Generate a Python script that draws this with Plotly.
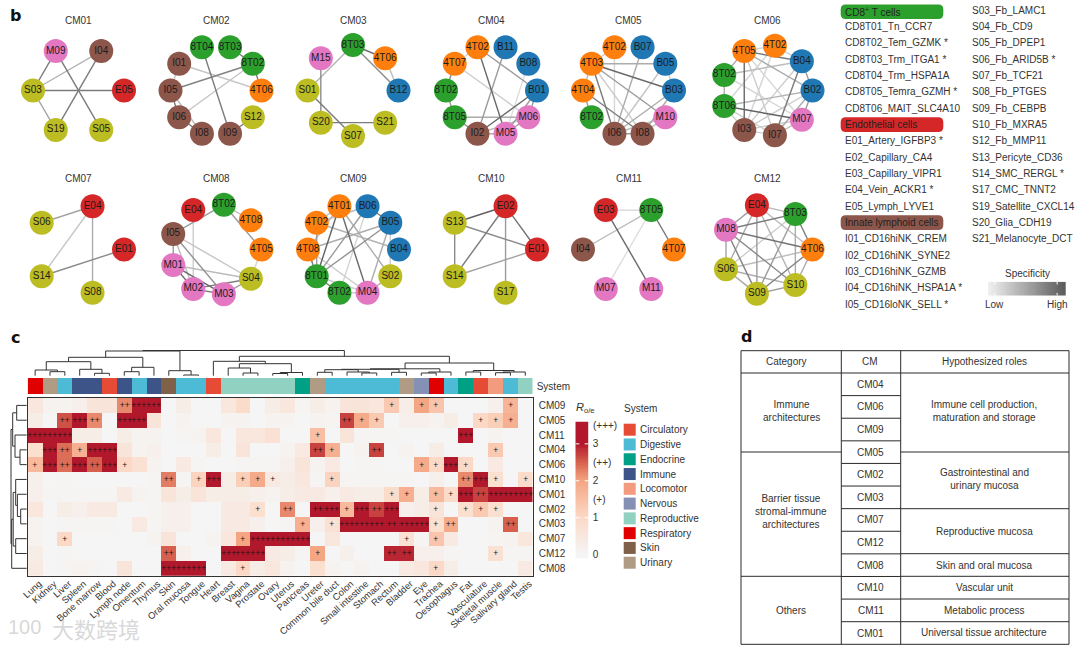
import math
import plotly.graph_objects as go

W, H = 1080, 648
FONT = "Liberation Sans"
INK = "#333333"

# ---------- panel b: co-occurrence networks (nodes clockwise from east) ----------
NODES = {
    "CM01": ["E05", "S05", "S19", "S03", "M09", "I04"],
    "CM02": ["4T06", "S12", "I09", "I08", "I06", "I05", "I01", "8T04", "8T03", "8T02"],
    "CM03": ["B12", "S21", "S07", "S20", "S01", "M15", "8T03", "4T06"],
    "CM04": ["B01", "M06", "M05", "I02", "8T05", "8T02", "4T07", "4T02", "B11", "B08"],
    "CM05": ["B03", "M10", "I08", "I06", "8T02", "4T04", "4T03", "4T02", "B07", "B05"],
    "CM06": ["B02", "M07", "I07", "I03", "8T06", "8T02", "4T05", "4T02", "B04"],
    "CM07": ["E01", "S08", "S14", "S06", "E04"],
    "CM08": ["4T05", "S04", "M03", "M02", "M01", "I05", "E04", "8T02", "4T08"],
    "CM09": ["B04", "S02", "M04", "8T02", "8T01", "4T08", "4T02", "4T01", "B06", "B05"],
    "CM10": ["E01", "S17", "S14", "S13", "E02"],
    "CM11": ["4T07", "M11", "M07", "I04", "E03", "8T05"],
    "CM12": ["4T06", "S10", "S09", "S06", "M08", "E04", "8T03"],
}
EDGES = {
    "CM01": [("M09", "S03", .7), ("M09", "S05", .7), ("I04", "S03", .35), ("I04", "S19", .7),
             ("S03", "E05", .7), ("S03", "S19", .45)],
    "CM02": [("8T03", "8T02", .7), ("8T02", "4T06", .7), ("8T02", "I05", .65), ("8T02", "I06", .25),
             ("8T04", "I09", .7), ("I01", "4T06", .25), ("I01", "I05", .25), ("I05", "I06", .7),
             ("I05", "I08", .3), ("I06", "I08", .7), ("I09", "S12", .7)],
    "CM03": [("8T03", "4T06", .8), ("8T03", "B12", .6), ("4T06", "B12", .3), ("8T03", "S01", .35),
             ("M15", "S20", .6), ("S01", "S07", .7), ("S20", "S21", .7)],
    "CM04": [("4T07", "4T02", .15), ("4T07", "8T02", .6), ("4T07", "M06", .2), ("8T02", "8T05", .5),
             ("4T02", "B01", .5), ("4T02", "M05", .8), ("B11", "I02", .5), ("B08", "M05", .1),
             ("B01", "I02", .8), ("B01", "M06", .5), ("B01", "M05", .5), ("8T05", "M06", .4),
             ("8T05", "I02", .6), ("I02", "M05", .4), ("M05", "M06", .5), ("I02", "M06", .3)],
    "CM05": [("4T03", "B05", .4), ("4T03", "B03", .8), ("4T03", "M10", .5), ("4T03", "I06", .7),
             ("4T03", "4T02", .2), ("4T03", "I08", .2), ("4T04", "I08", .7), ("4T04", "8T02", .5),
             ("4T04", "4T03", .3), ("B07", "I06", .4), ("B05", "I06", .25), ("B03", "I06", .4),
             ("B03", "I08", .4), ("M10", "I06", .3), ("M10", "I08", .3), ("I06", "I08", .5),
             ("4T02", "I06", .15), ("B05", "B03", .2)],
    "CM06": [("4T05", "B04", .7), ("4T05", "B02", .4), ("4T05", "I03", .8), ("4T05", "8T02", .4),
             ("4T05", "I07", .2), ("4T05", "4T02", .2), ("4T05", "M07", .15), ("4T02", "B04", .2),
             ("4T02", "I03", .15), ("8T02", "B04", .3), ("8T02", "8T06", .4), ("8T02", "M07", .15),
             ("8T06", "B02", .35), ("8T06", "M07", .85), ("8T06", "I03", .2), ("8T06", "I07", .2),
             ("8T06", "4T02", .15), ("B04", "B02", .5), ("B04", "I07", .7), ("B04", "I03", .2),
             ("B02", "M07", .5), ("B02", "I07", .4), ("B02", "I03", .2), ("M07", "I07", .3),
             ("M07", "I03", .2), ("I03", "I07", .2)],
    "CM07": [("E04", "S06", .45), ("E04", "S14", .25), ("E04", "S08", .4), ("E01", "S14", .6)],
    "CM08": [("8T02", "I05", .5), ("E04", "M02", .2), ("8T02", "4T08", .3), ("8T02", "4T05", .5),
             ("4T05", "S04", .15), ("I05", "M01", .5), ("I05", "S04", .25), ("I05", "M02", .3),
             ("I05", "M03", .55), ("M01", "S04", .3), ("M01", "M02", .8), ("M01", "M03", .8),
             ("M02", "M03", .7), ("M02", "S04", .7), ("M03", "S04", .5)],
    "CM09": [("4T01", "8T01", .85), ("4T01", "M04", .8), ("4T01", "S02", .4), ("4T01", "4T02", .3),
             ("4T01", "4T08", .3), ("B06", "8T01", .5), ("B06", "8T02", .15), ("B06", "4T02", .3),
             ("B06", "B05", .7), ("B05", "4T08", .4), ("B05", "8T01", .55), ("B05", "M04", .4),
             ("B05", "S02", .2), ("B04", "4T02", .35), ("S02", "M04", .4), ("4T02", "8T01", .5),
             ("4T08", "8T01", .7), ("4T08", "M04", .2), ("8T01", "8T02", .7), ("8T01", "M04", .2),
             ("8T02", "M04", .2)],
    "CM10": [("E02", "S13", .85), ("E02", "S14", .7), ("E02", "E01", .75), ("E02", "S17", .5),
             ("S13", "E01", .6), ("S13", "S14", .6), ("S14", "E01", .45)],
    "CM11": [("E03", "8T05", .15), ("E03", "M11", .8), ("8T05", "I04", .3), ("8T05", "M07", .1),
             ("8T05", "4T07", .7)],
    "CM12": [("E04", "8T03", .3), ("E04", "M08", .5), ("E04", "4T06", .3), ("E04", "S10", .35),
             ("E04", "S09", .5), ("E04", "S06", .4), ("8T03", "M08", .7), ("8T03", "4T06", .7),
             ("8T03", "S10", .4), ("8T03", "S09", .5), ("8T03", "S06", .2), ("4T06", "M08", .75),
             ("4T06", "S10", .4), ("4T06", "S09", .65), ("4T06", "S06", .3), ("S10", "M08", .6),
             ("S10", "S09", .5), ("S10", "S06", .4), ("S09", "M08", .65), ("S09", "S06", .45),
             ("S06", "M08", .45)],
}
NODE_COLORS = {"8T": "#2ca02c", "4T": "#ff7f0e", "B": "#1f77b4", "E": "#d62728",
               "I": "#8c564b", "M": "#e377c2", "S": "#bcbd22"}
PANEL_X = {"CM01": 78.5, "CM02": 216, "CM03": 353, "CM04": 491.5, "CM05": 628.5, "CM06": 767,
           "CM07": 78.5, "CM08": 216, "CM09": 353.5, "CM10": 491.5, "CM11": 628.5, "CM12": 767}
ROW_Y = {"top": 90.5, "bottom": 249.5}
PANEL_RADIUS = 45.5

# ---------- cell-type key ----------
KEY_COL1 = ["CD8<sup>+</sup> T cells", "CD8T01_Tn_CCR7", "CD8T02_Tem_GZMK *", "CD8T03_Trm_ITGA1 *",
            "CD8T04_Trm_HSPA1A", "CD8T05_Temra_GZMH *", "CD8T06_MAIT_SLC4A10", "Endothelial cells",
            "E01_Artery_IGFBP3 *", "E02_Capillary_CA4", "E03_Capillary_VIPR1", "E04_Vein_ACKR1 *",
            "E05_Lymph_LYVE1", "Innate lymphoid cells", "I01_CD16hiNK_CREM", "I02_CD16hiNK_SYNE2",
            "I03_CD16hiNK_GZMB", "I04_CD16hiNK_HSPA1A *", "I05_CD16loNK_SELL *"]
KEY_COL2 = ["S03_Fb_LAMC1", "S04_Fb_CD9", "S05_Fb_DPEP1", "S06_Fb_ARID5B *", "S07_Fb_TCF21",
            "S08_Fb_PTGES", "S09_Fb_CEBPB", "S10_Fb_MXRA5", "S12_Fb_MMP11", "S13_Pericyte_CD36",
            "S14_SMC_RERGL *", "S17_CMC_TNNT2", "S19_Satellite_CXCL14", "S20_Glia_CDH19",
            "S21_Melanocyte_DCT"]
KEY_PILLS = {0: "#2ca02c", 7: "#d62728", 13: "#8c564b"}
SPEC_LEVELS = [0.0, 0.1, 0.2, 0.3, 0.4, 0.5, 0.6, 0.7, 0.8, 0.9, 1.0]
SPEC_TICKS = [0.09, 0.89]

# ---------- panel c: heatmap ----------
TISSUES = ["Lung", "Kidney", "Liver", "Spleen", "Bone marrow", "Blood", "Lymph node", "Omentum", "Thymus",
           "Skin", "Oral mucosa", "Tongue", "Heart", "Breast", "Vagina", "Prostate", "Ovary", "Uterus",
           "Pancreas", "Ureter", "Common bile duct", "Colon", "Small intestine", "Stomach", "Rectum",
           "Bladder", "Eye", "Trachea", "Oesophagus", "Fat", "Vasculature", "Skeletal muscle",
           "Salivary gland", "Testis"]
TISSUE_SYSTEM = ["Respiratory", "Urinary", "Digestive", "Immune", "Immune", "Circulatory", "Immune", "Digestive",
                 "Immune", "Skin", "Digestive", "Digestive", "Circulatory", "Reproductive", "Reproductive",
                 "Reproductive", "Reproductive", "Reproductive", "Endocrine", "Urinary", "Digestive", "Digestive",
                 "Digestive", "Digestive", "Digestive", "Urinary", "Nervous", "Respiratory", "Digestive",
                 "Endocrine", "Circulatory", "Locomotor", "Digestive", "Reproductive"]
SYSTEMS = ["Circulatory", "Digestive", "Endocrine", "Immune", "Locomotor", "Nervous", "Reproductive",
           "Respiratory", "Skin", "Urinary"]
SYSTEM_COLORS = ["#e64b35", "#4dbbd5", "#00a087", "#3c5488", "#f39b7f", "#8491b4", "#91d1c2",
                 "#e00000", "#7e6148", "#b09c85"]
MODULES = ["CM09", "CM05", "CM11", "CM04", "CM06", "CM10", "CM01", "CM02", "CM03", "CM07", "CM12", "CM08"]

R_CM09 = [.5, .1, .1, .2, .6, .6, 2.2, 3.5, 3.5, 0, .3, 0, 0, .5, .9, 0, .3, .5, .05, .3,
          .1, .6, .6, .5, 1.3, .3, 2.0, 1.4, 0, 0, 0, .2, 1.7, 0]
R_CM05 = [.3, 0, 2.6, 3.3, 2.2, 0, 3.3, 3.3, .6, 0, .1, 0, 0, .1, .1, 0, .1, .1, 0, .1,
          .05, 2.7, 1.9, 1.3, 0, .2, .2, .1, .3, 0, 1.0, 1.2, 1.8, 0]
R_CM11 = [3.5, 3.5, 3.5, .3, .3, 0, .3, .1, .1, 0, .05, .1, .5, 0, .5, .5, .7, 0, 0, 1.5,
          0, .6, .05, .05, .05, 0, 0, 0, 0, 3.5, 0, .1, 0, 0]
R_CM04 = [.8, 3.3, 2.4, 1.8, 3.4, 3.4, .6, .1, .2, 0, 0, 0, .3, 0, .6, 0, 0, .1, .4, 2.7,
          1.8, 0, .1, 2.7, 0, .1, 0, .3, 0, 0, 0, 1.3, 0, 0]
R_CM06 = [1.6, 3.3, 2.4, 3.2, 2.5, 3.3, 1.0, .7, .1, 0, .4, .05, 0, 0, .05, .05, .05, .2, .6, .1,
          .4, 0, .05, .05, 0, 0, 1.9, 1.0, 3.4, 1.0, 0, .4, 0, 0]
R_CM10 = [.2, 0, .05, 0, 0, 0, 0, 0, .05, 2.3, .05, 1.1, 3.4, .3, 1.2, 1.9, .4, .3, .5, .05,
          1.1, .05, .05, .05, .05, .05, 0, .2, 0, 2.2, 3.2, .8, 0, .9]
R_CM01 = [.2, .05, .05, .05, .05, .05, .4, .1, .05, .6, .3, .6, .3, .3, .3, .2, .1, .3, .4, .4,
          .2, .4, .3, .3, .9, 1.8, .3, 1.6, .9, 3.2, 2.7, 3.4, 3.4, 3.4]
R_CM02 = [.5, 0, .3, .2, .4, .4, 0, 0, .05, .2, .2, 0, 0, .4, .4, .8, 0, 2.2, 0, 3.0,
          3.3, 1.6, 3.2, 2.7, 3.2, .2, .3, .6, 0, .8, 1.3, .8, 0, 0]
R_CM03 = [.1, 0, .05, .05, .05, .05, 0, .4, .05, .2, .2, 0, 0, .4, .4, .2, 0, .05, 1.8, .2,
          .7, 3.3, 3.4, 3.3, 3.0, 3.2, 3.3, .8, 1.9, 0, 0, .1, 2.5, 0]
R_CM07 = [.1, 0, 1.0, 0, 0, 0, 0, 0, .1, .6, 0, 0, .1, .5, 2.0, 3.4, 3.4, 3.4, 3.4, 0,
          .5, 0, 0, 0, 0, .7, .05, 1.4, .4, 0, 0, .05, .1, .5]
R_CM12 = [.3, 0, .05, 0, 0, 0, 0, 0, 0, 2.5, .2, 0, 0, 3.4, 3.4, 3.4, .4, .3, .05, 2.0,
          0, .2, 0, 0, 2.9, 2.9, .2, .2, .05, 0, 0, .7, .05, .05]
R_CM08 = [.4, 0, .05, .1, .05, 0, .6, 0, 0, 3.4, 3.4, 3.4, 0, .4, 1.0, .3, .5, .1, 0, .8,
          .1, 0, .1, 0, 0, .4, .5, 1.0, .3, 0, 0, 0, 0, .4]
HEAT_ROWS = [R_CM09, R_CM05, R_CM11, R_CM04, R_CM06, R_CM10, R_CM01, R_CM02, R_CM03, R_CM07, R_CM12, R_CM08]

PLUS = {
    "CM09": {"Lymph node": 2, "Omentum": 3, "Thymus": 3, "Rectum": 1, "Eye": 1, "Trachea": 1, "Salivary gland": 1},
    "CM05": {"Liver": 2, "Spleen": 3, "Bone marrow": 2, "Lymph node": 3, "Omentum": 3, "Colon": 2,
             "Small intestine": 1, "Stomach": 1, "Vasculature": 1, "Skeletal muscle": 1, "Salivary gland": 1},
    "CM11": {"Lung": 3, "Kidney": 3, "Liver": 3, "Ureter": 1, "Fat": 3},
    "CM04": {"Kidney": 3, "Liver": 2, "Spleen": 1, "Bone marrow": 3, "Blood": 3, "Ureter": 2,
             "Common bile duct": 1, "Stomach": 2, "Skeletal muscle": 1},
    "CM06": {"Lung": 1, "Kidney": 3, "Liver": 2, "Spleen": 3, "Bone marrow": 2, "Blood": 3, "Lymph node": 1,
             "Eye": 1, "Trachea": 1, "Oesophagus": 3, "Fat": 1},
    "CM10": {"Skin": 2, "Tongue": 1, "Heart": 3, "Vagina": 1, "Prostate": 1, "Ovary": 1, "Common bile duct": 1,
             "Fat": 2, "Vasculature": 3, "Skeletal muscle": 1, "Testis": 1},
    "CM01": {"Rectum": 1, "Bladder": 1, "Trachea": 1, "Oesophagus": 1, "Fat": 3, "Vasculature": 2,
             "Skeletal muscle": 3, "Salivary gland": 3, "Testis": 3},
    "CM02": {"Prostate": 1, "Uterus": 2, "Ureter": 2, "Common bile duct": 3, "Colon": 1, "Small intestine": 3,
             "Stomach": 2, "Rectum": 3, "Trachea": 1, "Fat": 1, "Vasculature": 1, "Skeletal muscle": 1},
    "CM03": {"Pancreas": 1, "Common bile duct": 1, "Colon": 3, "Small intestine": 3, "Stomach": 3, "Rectum": 2,
             "Bladder": 3, "Eye": 3, "Trachea": 1, "Oesophagus": 2, "Salivary gland": 2},
    "CM07": {"Liver": 1, "Vagina": 1, "Prostate": 3, "Ovary": 3, "Uterus": 3, "Pancreas": 3, "Bladder": 1, "Trachea": 1},
    "CM12": {"Skin": 2, "Breast": 3, "Vagina": 3, "Prostate": 3, "Ureter": 1, "Rectum": 2, "Bladder": 2,
             "Skeletal muscle": 1},
    "CM08": {"Skin": 3, "Oral mucosa": 3, "Tongue": 3, "Vagina": 1, "Trachea": 1},
}
COLOR_STOPS = [(-0.1, "#f5f5f5"), (0.0, "#f5f5f5"), (1.0, "#fcd9c6"), (2.0, "#f4a582"),
               (2.5, "#d6604d"), (3.0, "#b2182b"), (3.6, "#b2182b")]
Z_MIN, Z_MAX = -0.1, 3.6
R_TICKS = [0, 1, 2, 3]
R_TICK_MARKS = [1, 2, 3]
R_GRADES = [("(+++)", 3.5), ("(++)", 2.5), ("(+)", 1.5)]

# dendrograms: (height in px, left, right)
TOP_TREE = (27.5,
            (27.0,
             (20.7,
              (16.3,
               (8.0, "Lung", (6.3, "Kidney", "Liver")),
               (8.7, "Spleen", (4.7, "Bone marrow", "Blood"))),
              (10.7, (6.3, "Lymph node", "Omentum"), "Thymus")),
             (7.3, "Skin", (3.0, "Oral mucosa", "Tongue"))),
            (21.7,
             (16.7,
              "Heart",
              (14.3,
               (10.0, "Breast", (5.0, "Vagina", "Prostate")),
               (5.5, (4.5, "Ovary", "Uterus"), "Pancreas"))),
             (15.0,
              (9.2,
               (8.7,
                (8.3, (5.7, "Ureter", "Common bile duct"),
                 (6.0, "Colon", (5.0, "Small intestine", "Stomach"))),
                (5.7, "Rectum", "Bladder")),
               (6.0, (5.0, "Eye", "Trachea"), "Oesophagus")),
              (7.5,
               (6.0, "Fat", "Vasculature"),
               (6.0, (5.3, "Skeletal muscle", "Salivary gland"), "Testis")))))
LEFT_TREE = (16.7,
             (15.0,
              (11.0, "CM09", "CM05"),
              (12.7, "CM11", (7.7, "CM04", "CM06"))),
             (16.0,
              (14.5,
               (12.0, "CM10", (10.3, "CM01", (7.0, "CM02", "CM03"))),
               (12.0, "CM07", "CM12")),
              "CM08"))

# ---------- panel d: table ----------
TABLE_HEAD = [("Category", 786.7), ("CM", 869.5), ("Hypothesized roles", 984.3)]
TABLE_CMS = ["CM04", "CM06", "CM09", "CM05", "CM02", "CM03", "CM07", "CM12", "CM08", "CM10", "CM11", "CM01"]
TABLE_CATS = [("Immune<br>architectures", 411), ("Barrier tissue<br>stromal-immune<br>architectures", 511.7),
              ("Others", 610)]
TABLE_ROLES = [("Immune cell production,<br>maturation and storage", 411),
               ("Gastrointestinal and<br>urinary mucosa", 478.7), ("Reproductive mucosa", 531),
               ("Skin and oral mucosa", 565.3), ("Vascular unit", 587.3), ("Metabolic process", 610),
               ("Universal tissue architecture", 632.3)]
TBL_X = [741, 841.3, 900.7, 1069]
TBL_TOP, TBL_HEAD_BOT, TBL_BOT = 350.7, 373, 644.3
TBL_CAT_LINES = [452, 576.3]
TBL_ROLE_LINES = [452, 508.7, 553.7, 576.3, 599, 621.7]

# ---------- helpers ----------
fig = go.Figure()
axis_count = 0
annotations = []
shapes = []


def new_axes(px_x, px_y, xr, yr):
    global axis_count
    axis_count += 1
    n = axis_count
    xk, yk = ("xaxis", "yaxis") if n == 1 else (f"xaxis{n}", f"yaxis{n}")
    xid, yid = ("x", "y") if n == 1 else (f"x{n}", f"y{n}")
    fig.layout[xk] = dict(domain=[px_x[0] / W, px_x[1] / W], range=xr, visible=False, anchor=yid,
                          fixedrange=True)
    fig.layout[yk] = dict(domain=[1 - px_y[1] / H, 1 - px_y[0] / H], range=yr, visible=False, anchor=xid,
                          fixedrange=True)
    return xid, yid, xk, yk


def text(x, y, s, size=10, color=INK, anchor="center", family=FONT):
    annotations.append(dict(x=x, y=y, xref="x", yref="y", text=s, showarrow=False, borderpad=0, borderwidth=0,
                            xanchor=anchor, yanchor="middle", font=dict(family=family, size=size, color=color)))


def polyline(xid, yid, xs, ys, color="#333333", width=1.0):
    fig.add_trace(go.Scatter(x=xs, y=ys, xaxis=xid, yaxis=yid, mode="lines", hoverinfo="skip", showlegend=False,
                             line=dict(color=color, width=width)))


def edge_color(s):
    g = round(238 - s * 165)
    return f"rgb({g},{g},{g})"


def dendro(tree, leaf_pos, base):
    xs, ys = [], []

    def walk(node):
        if isinstance(node, str):
            return leaf_pos[node], base
        h, a, b = node
        pa, ha = walk(a)
        pb, hb = walk(b)
        xs.extend([pa, pa, pb, pb, None])
        ys.extend([ha, h, h, hb, None])
        return (pa + pb) / 2, h

    walk(tree)
    return xs, ys


# ---------- canvas axes (1 px = 1 unit): texts, key, table ----------
cx, cy, _, _ = new_axes((0, W), (0, H), [0, W], [H, 0])

text(15, 15, "<b>b</b>", 16, "#111111", family="DejaVu Sans")
text(15, 337, "<b>c</b>", 16, "#111111", family="DejaVu Sans")
text(746, 336, "<b>d</b>", 16, "#111111", family="DejaVu Sans")

# watermark
text(24, 627, "100", 20, "rgba(190,190,190,0.6)")
text(96, 628, "大数跨境", 22, "rgba(190,190,190,0.6)", family="Noto Sans CJK SC")

# key
KEY_Y0, KEY_DY = 10.3, 16.33
for i, s in enumerate(KEY_COL1):
    y = KEY_Y0 + KEY_DY * i + (1.4 if i == 0 else 0)
    if i in KEY_PILLS:
        x0, x1, y0, y1, r = 840.7, 943.3, y - 7.3, y + 7.3, 5
        shapes.append(dict(type="path", xref="x", yref="y", fillcolor=KEY_PILLS[i], line=dict(width=0), layer="below",
                           path=f"M{x0 + r},{y0} L{x1 - r},{y0} Q{x1},{y0} {x1},{y0 + r} L{x1},{y1 - r} "
                                f"Q{x1},{y1} {x1 - r},{y1} L{x0 + r},{y1} Q{x0},{y1} {x0},{y1 - r} "
                                f"L{x0},{y0 + r} Q{x0},{y0} {x0 + r},{y0} Z"))
        text(845, y, s, 10, "#222222", anchor="left")
    else:
        text(844.7, y, s, 10, INK, anchor="left")
for i, s in enumerate(KEY_COL2):
    text(971.7, KEY_Y0 + KEY_DY * i, s, 10, INK, anchor="left")
text(1027, 273, "Specificity", 10)
text(994, 304, "Low", 10)
text(1057, 304, "High", 10)

# panel titles
for name in NODES:
    row_top = int(name[2:]) <= 6
    text(PANEL_X[name], 20 if row_top else 178.5, name, 10)

# colour-scale and system legends
BAR_TOP, BAR_BOT = 421.7, 558.3
text(576, 408, "<i>R</i><sub>o/e</sub>", 11, anchor="left")
for s, v in R_GRADES:
    # positioned on the colour bar's value scale
    text(592.7, BAR_BOT - (v - Z_MIN) / (Z_MAX - Z_MIN) * (BAR_BOT - BAR_TOP), s, 10, anchor="left")
text(624, 408.7, "System", 10, anchor="left")
SYS_Y0, SYS_DY = 429.7, 14.78
fig.add_trace(go.Scatter(x=[629.7] * len(SYSTEMS), y=[SYS_Y0 + SYS_DY * i for i in range(len(SYSTEMS))],
                         xaxis=cx, yaxis=cy, mode="markers", hoverinfo="skip", showlegend=False,
                         marker=dict(symbol="square", size=12, color=SYSTEM_COLORS, line=dict(width=0))))
for i, s in enumerate(SYSTEMS):
    text(640.3, SYS_Y0 + SYS_DY * i, s, 10, anchor="left")

# table d
lx, ly = [], []
for x in TBL_X:
    lx += [x, x, None]
    ly += [TBL_TOP, TBL_BOT, None]
for y in [TBL_TOP, TBL_HEAD_BOT, TBL_BOT]:
    lx += [TBL_X[0], TBL_X[3], None]
    ly += [y, y, None]
ROW_H = (TBL_BOT - TBL_HEAD_BOT) / len(TABLE_CMS)
for i in range(1, len(TABLE_CMS)):
    y = TBL_HEAD_BOT + ROW_H * i
    lx += [TBL_X[1], TBL_X[2], None]
    ly += [y, y, None]
for y in TBL_CAT_LINES:
    lx += [TBL_X[0], TBL_X[1], None]
    ly += [y, y, None]
for y in TBL_ROLE_LINES:
    lx += [TBL_X[2], TBL_X[3], None]
    ly += [y, y, None]
polyline(cx, cy, lx, ly, "#2a2a2a", 1.0)
for s, x in TABLE_HEAD:
    text(x, 361.7, s, 10)
for i, s in enumerate(TABLE_CMS):
    text(870.7, TBL_HEAD_BOT + ROW_H * (i + 0.5), s, 10)
for s, y in TABLE_CATS:
    text(791, y, s, 10)
for s, y in TABLE_ROLES:
    text(984.3, y, s, 10)

# specificity gradient bar
sx, sy, _, _ = new_axes((988, 1065.7), (281.7, 295.7), [0, 1], [0, 1])
fig.add_trace(go.Heatmap(z=[SPEC_LEVELS], x=[i / 10 for i in range(11)], y=[0.5], xaxis=sx, yaxis=sy, showscale=False,
                         hoverinfo="skip", colorscale=[[0, "#f0f0f0"], [1, "#585858"]], zsmooth="best"))
for t in SPEC_TICKS:
    polyline(sx, sy, [t, t, None, t, t], [0, 0.2, None, 0.8, 1], "white", 1)

# ---------- networks ----------
for name, nodes in NODES.items():
    row = ROW_Y["top"] if int(name[2:]) <= 6 else ROW_Y["bottom"]
    cxp = PANEL_X[name]
    half = 62
    span = half / PANEL_RADIUS
    xid, yid, _, _ = new_axes((cxp - half, cxp + half), (row - half, row + half), [-span, span], [span, -span])
    pos = {}
    for i, n in enumerate(nodes):
        a = 2 * math.pi * i / len(nodes)
        pos[n] = (math.cos(a), math.sin(a))
    for a, b, s in sorted(EDGES[name], key=lambda e: e[2]):
        polyline(xid, yid, [pos[a][0], pos[b][0]], [pos[a][1], pos[b][1]], edge_color(s), 1.4)
    fig.add_trace(go.Scatter(
        x=[pos[n][0] for n in nodes], y=[pos[n][1] for n in nodes], text=nodes, xaxis=xid, yaxis=yid,
        mode="markers+text", textposition="middle center", hoverinfo="skip", showlegend=False,
        textfont=dict(family=FONT, size=10, color="#1c1c1c"),
        marker=dict(size=24, color=[NODE_COLORS[n[:2] if n[0] in "48" else n[0]] for n in nodes], line=dict(width=0))))

# ---------- heatmap ----------
HX0, HX1, HY0, HY1 = 27.7, 532.7, 398, 575.7
n_c, n_r = len(TISSUES), len(MODULES)
xr = [-0.5, n_c - 0.5]
yr = [n_r - 0.5, -0.5]

# top dendrogram
dx, dy, _, _ = new_axes((HX0, HX1), (348, 378), xr, [0, 30])
xs, ys = dendro(TOP_TREE, {t: i for i, t in enumerate(TISSUES)}, 2.3)
polyline(dx, dy, xs, ys, "#333333", 1.0)

# left dendrogram
lx_id, ly_id, _, _ = new_axes((7, HX0), (HY0, HY1), [20.7, 0], yr)
ys, xs = dendro(LEFT_TREE, {m: i for i, m in enumerate(MODULES)}, 1.0)
polyline(lx_id, ly_id, xs, ys, "#333333", 1.0)

# system strip
tx, ty, txk, tyk = new_axes((HX0, HX1), (378, 394), xr, [-0.5, 0.5])
fig.layout[tyk].update(visible=True, side="right", tickmode="array", tickvals=[0], ticktext=["System"],
                       tickfont=dict(family=FONT, size=10, color=INK), showgrid=False, zeroline=False,
                       showline=False, ticks="", ticklen=0, ticklabelstandoff=3)
n_s = len(SYSTEMS)
strip_scale = []
for i, c in enumerate(SYSTEM_COLORS):
    strip_scale += [[i / n_s, c], [(i + 1) / n_s, c]]
fig.add_trace(go.Heatmap(z=[[SYSTEMS.index(s) for s in TISSUE_SYSTEM]], x=list(range(n_c)), y=[0], xaxis=tx, yaxis=ty,
                         zmin=-0.5, zmax=n_s - 0.5, showscale=False, colorscale=strip_scale, hoverinfo="skip"))

# main heatmap
hx, hy, hxk, hyk = new_axes((HX0, HX1), (HY0, HY1), xr, yr)
axis_style = dict(visible=True, showline=True, mirror=True, linecolor="#333333", linewidth=1, showgrid=False,
                  zeroline=False, ticks="", ticklen=0)
fig.layout[hxk].update(side="bottom", tickangle=-42, tickmode="array", tickvals=list(range(n_c)), ticktext=TISSUES,
                       ticklabelshift=4, ticklabelstandoff=-2, tickfont=dict(family=FONT, size=9.4, color=INK),
                       **axis_style)
fig.layout[hyk].update(side="right", tickmode="array", tickvals=list(range(n_r)), ticktext=MODULES,
                       ticklabelstandoff=3, tickfont=dict(family=FONT, size=10, color=INK), **axis_style)
marks = [["+" * PLUS[m].get(t, 0) for t in TISSUES] for m in MODULES]
scale = [[(v - Z_MIN) / (Z_MAX - Z_MIN), c] for v, c in COLOR_STOPS]
fig.add_trace(go.Heatmap(
    z=HEAT_ROWS, x=list(range(n_c)), y=list(range(n_r)), xaxis=hx, yaxis=hy, zmin=Z_MIN, zmax=Z_MAX, colorscale=scale,
    text=marks, texttemplate="%{text}", textfont=dict(family=FONT, size=8.5, color="#221414"), hoverinfo="skip",
    showscale=False))

# colour scale, drawn as a one-column heatmap on its own value axis
bx, by, bxk, byk = new_axes((575.3, 588.7), (BAR_TOP, BAR_BOT), [0, 1], [Z_MIN, Z_MAX])
bar_levels = [Z_MIN + (Z_MAX - Z_MIN) * i / 74 for i in range(75)]
fig.add_trace(go.Heatmap(z=[[v] for v in bar_levels], x=[0.5], y=bar_levels, xaxis=bx, yaxis=by, zmin=Z_MIN, zmax=Z_MAX,
                         colorscale=scale, showscale=False, hoverinfo="skip"))
fig.layout[byk].update(visible=True, side="right", tickmode="array", tickvals=R_TICKS, ticktext=[str(t) for t in R_TICKS],
                       tickfont=dict(family=FONT, size=10, color=INK), showgrid=False, zeroline=False, showline=False,
                       ticks="", ticklen=0, ticklabelstandoff=3)
for t in R_TICK_MARKS:
    polyline(bx, by, [0, 0.3, None, 0.7, 1], [t, t, None, t, t], "white", 1)

fig.update_layout(width=W, height=H, margin=dict(l=0, r=0, t=0, b=0, autoexpand=False), paper_bgcolor="white",
                  plot_bgcolor="white", showlegend=False, annotations=annotations, shapes=shapes, font=dict(family=FONT))
fig.write_html("out.html", config={"displayModeBar": False}, post_script="document.body.style.margin='0';")
